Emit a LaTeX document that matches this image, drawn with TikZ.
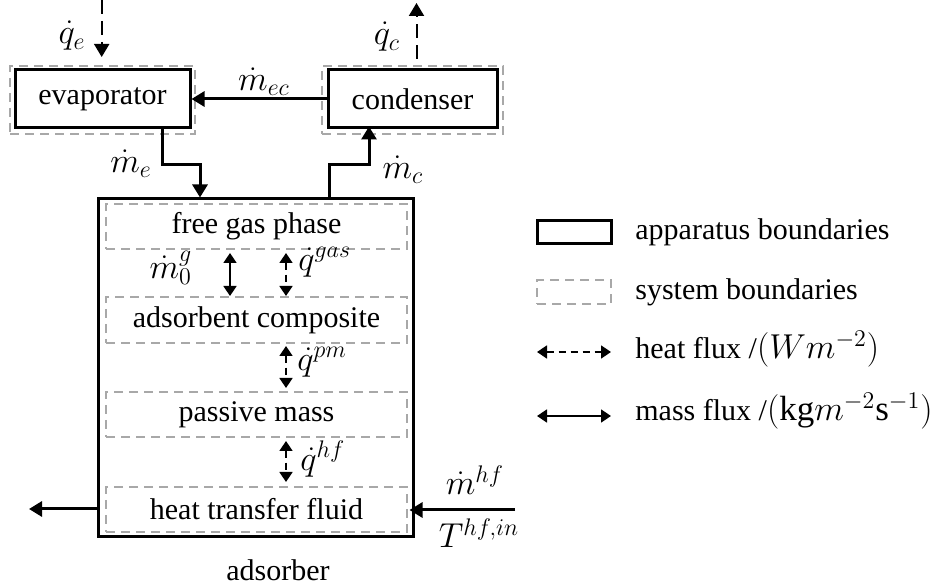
\documentclass[tikz,border=0pt]{standalone}
\usepackage{fontspec}
\setmainfont{Liberation Serif}
\usetikzlibrary{arrows.meta}
\definecolor{sysgray}{HTML}{A8A8A8}
\newcommand{\mlarge}{\fontsize{17.5}{20}\selectfont}
\begin{document}
\begin{tikzpicture}[x=0.5pt,y=-0.5pt,
  every node/.style={font=\fontsize{15}{18}\selectfont, inner sep=0pt},
  mlbl/.style={font=\mlarge},
  appbox/.style={draw=black, line width=1.5pt},
  sysbox/.style={draw=sysgray, line width=1pt, dash pattern=on 4.5pt off 3pt},
  massarrow/.style={line width=1.5pt, -{Triangle[width=7.5pt,length=6.5pt]}},
  heatarrow/.style={line width=1pt, dash pattern=on 7pt off 3.5pt, -{Triangle[width=7.5pt,length=6.5pt]}},
  smallmass/.style={line width=0.8pt, {Triangle[width=6.5pt,length=5pt]}-{Triangle[width=6.5pt,length=5pt]}},
  smallheat/.style={line width=0.8pt, dash pattern=on 3.5pt off 2.5pt, {Triangle[width=6.5pt,length=5pt]}-{Triangle[width=6.5pt,length=5pt]}},
  lbl/.style={anchor=west}
]
\useasboundingbox (0,0) rectangle (932,587);

% evaporator and condenser
\node[appbox, minimum width=87.5pt, minimum height=29pt] (evap) at (102.5,99) {evaporator};
\node[sysbox, minimum width=92.5pt, minimum height=34pt] (evapsys) at (102.5,100) {};
\node[appbox, minimum width=84.5pt, minimum height=29pt] (cond) at (412.5,99) {condenser};
\node[sysbox, minimum width=90.5pt, minimum height=34pt] (condsys) at (412.5,100) {};

% adsorber
\node[appbox, minimum width=157.5pt, minimum height=169pt] (ads) at (255.5,368) {};
\node[sysbox, minimum width=150.5pt, minimum height=22.5pt] (fgp) at (256.5,226.5) {free gas phase};
\node[sysbox, minimum width=150.5pt, minimum height=23pt] (ac) at (256.5,320) {adsorbent composite};
\node[sysbox, minimum width=150.5pt, minimum height=22.5pt] (pm) at (256.5,414.5) {passive mass};
\node[sysbox, minimum width=150.5pt, minimum height=22.5pt] (htf) at (256.5,509.5) {heat transfer fluid};
\node (adslbl) at (278,570) {adsorber};

% evaporator/condenser connections
\draw[massarrow] (cond.west) -- (evap.east);
\node[mlbl] (mec) at (264,82) {$\dot m_{ec}$};

\coordinate (qetop) at (101.7,0);
\draw[heatarrow, shorten >=4pt] (qetop) -- (evapsys.north -| qetop);
\node[mlbl] (qe) at (72,36) {$\dot q_{e}$};

\coordinate (qctop) at (416.5,3);
\draw[heatarrow, shorten <=3pt] (condsys.north -| qctop) -- (qctop);
\node[mlbl] (qc) at (387,37) {$\dot q_{c}$};

\coordinate (me1) at (162,165);
\coordinate (me2) at (200,165);
\draw[massarrow] (evap.south -| me1) -- (me1) -- (me2) -- (ads.north -| me2);
\node[mlbl] (me) at (131,164) {$\dot m_{e}$};

\coordinate (mc1) at (329,165);
\coordinate (mc2) at (369,165);
\draw[massarrow, shorten >=-1.5pt] (ads.north -| mc1) -- (mc1) -- (mc2) -- (cond.south -| mc2);
\node[mlbl] (mc) at (403,170) {$\dot m_{c}$};

% internal fluxes
\coordinate (mgx) at (230,0);
\coordinate (qx) at (286,0);
\draw[smallmass, shorten <=1.5pt] (fgp.south -| mgx) -- (ac.north -| mgx);
\node[mlbl] (m0g) at (171,268) {$\dot m_0^{g}$};
\draw[smallheat, shorten <=1.5pt] (fgp.south -| qx) -- (ac.north -| qx);
\node[lbl, mlbl] (qgas) at (298,262) {$\dot q^{gas}$};
\draw[smallheat, shorten <=1pt, shorten >=1.5pt] (ac.south -| qx) -- (pm.north -| qx);
\node[lbl, mlbl] (qpm) at (297,362) {$\dot q^{pm}$};
\draw[smallheat, shorten <=1.5pt, shorten >=2pt] (pm.south -| qx) -- (htf.north -| qx);
\node[lbl, mlbl] (qhf) at (300,459) {$\dot q^{hf}$};

% heat transfer fluid in/out
\coordinate (hfout) at (29,509);
\draw[massarrow] (ads.west |- hfout) -- (hfout);
\coordinate (hfin) at (515,510);
\draw[massarrow, shorten >=-2.5pt] (hfin) -- (ads.east |- hfin);
\node[mlbl] (mhf) at (475,480) {$\dot m^{hf}$};
\node[mlbl] (thf) at (479,533) {$T^{hf,in}$};

% legend
\node[appbox, minimum width=37pt, minimum height=11.5pt] (legapp) at (574,232) {};
\node[lbl] (legapptxt) at (635,232) {apparatus boundaries};
\node[sysbox, minimum width=37pt, minimum height=12pt] (legsys) at (574,292) {};
\node[lbl] (legsystxt) at (635,292) {system boundaries};
\coordinate (lh1) at (537,352);
\coordinate (lh2) at (611,352);
\draw[smallheat] (lh1) -- (lh2);
\node[lbl] (legheattxt) at (635,349) {heat flux /{\mlarge$(Wm^{-2})$}};
\coordinate (lm1) at (537,416);
\coordinate (lm2) at (611,416);
\draw[smallmass] (lm1) -- (lm2);
\node[lbl] (legmasstxt) at (635,411) {mass flux /{\mlarge$(\mathrm{kg}m^{-2}\mathrm{s}^{-1})$}};
\end{tikzpicture}
\end{document}
